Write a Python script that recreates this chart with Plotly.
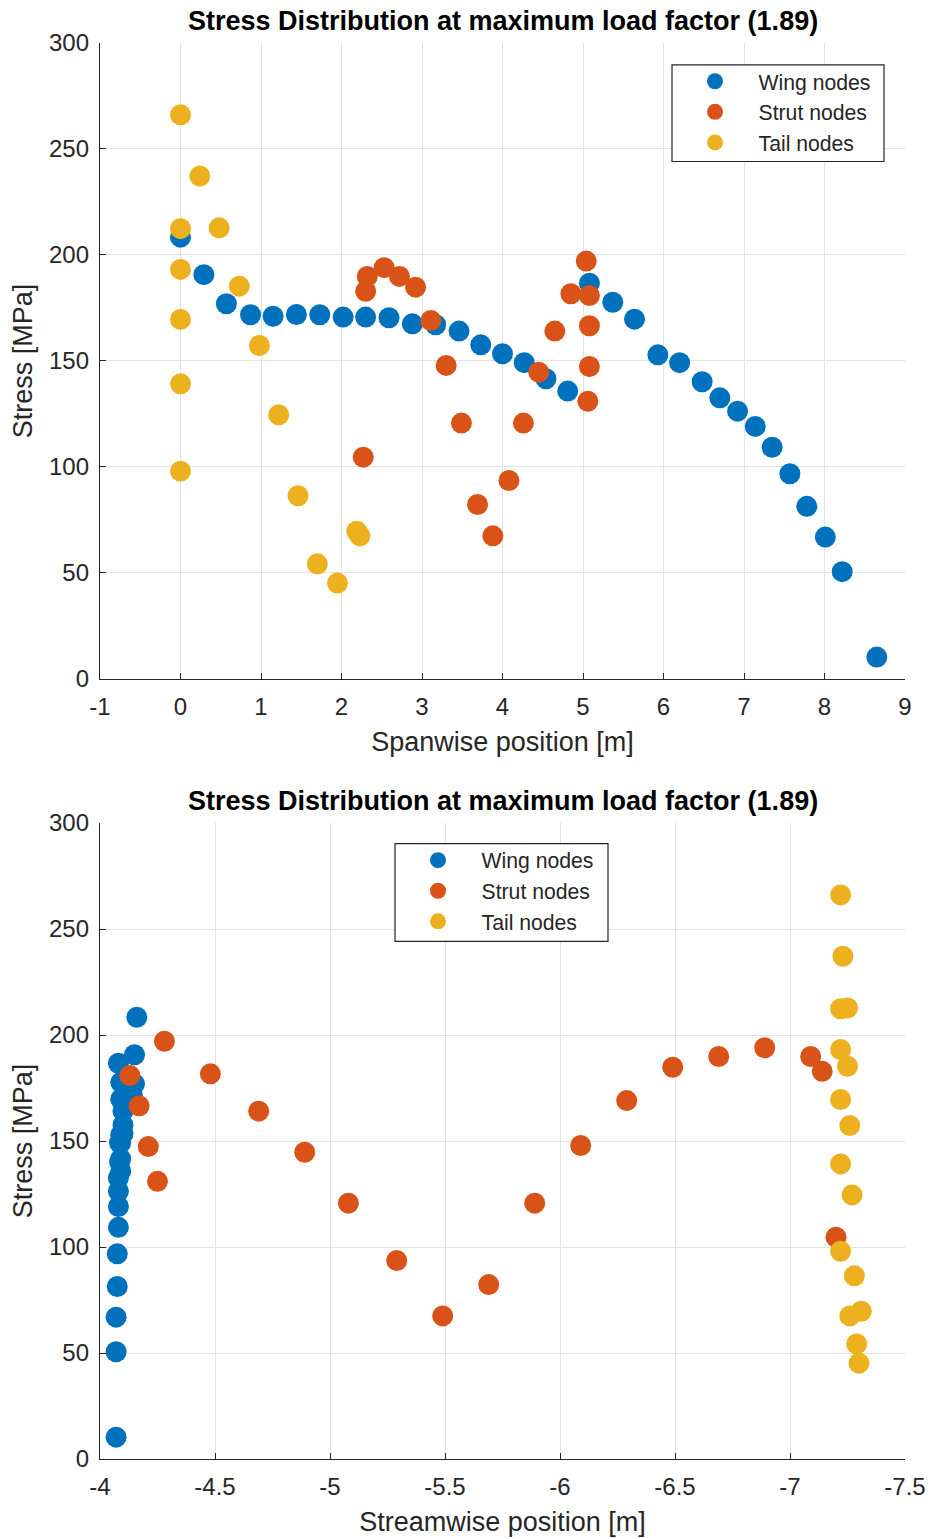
import plotly.graph_objects as go

# ---------------- data ----------------
wing_span = [0, 0.29, 0.57, 0.87, 1.15, 1.44, 1.73, 2.02, 2.30, 2.59, 2.88, 3.17, 3.46, 3.73,
             4.00, 4.27, 4.54, 4.81, 5.08, 5.37, 5.64, 5.93, 6.20, 6.48, 6.70, 6.92, 7.14,
             7.35, 7.57, 7.78, 8.01, 8.22, 8.65]
wing_stream = [-4.16, -4.15, -4.15, -4.14, -4.14, -4.13, -4.13, -4.12, -4.12, -4.12, -4.11,
               -4.11, -4.10, -4.10, -4.10, -4.09, -4.09, -4.09, -4.08, -4.09, -4.09, -4.09,
               -4.085, -4.085, -4.08, -4.08, -4.08, -4.08, -4.075, -4.075, -4.07, -4.07, -4.07]
wing_stress = [208.4, 190.7, 177.0, 171.8, 171.1, 171.9, 171.8, 170.7, 170.7, 170.4, 167.5,
               167.1, 164.1, 157.6, 153.4, 149.2, 141.6, 135.8, 186.7, 177.7, 169.7, 152.9,
               149.2, 140.2, 132.6, 126.3, 119.1, 109.3, 96.8, 81.4, 66.9, 50.6, 10.3]

strut_span = [2.27, 2.30, 2.32, 2.53, 2.72, 2.92, 3.11, 3.30, 3.49, 3.69, 3.88, 4.08, 4.26,
              4.45, 4.65, 4.85, 5.04, 5.08, 5.08, 5.08, 5.06]
strut_stream = [-7.20, -7.14, -7.09, -6.89, -6.69, -6.49, -6.29, -6.09, -5.89, -5.69, -5.49,
                -5.29, -5.08, -4.89, -4.69, -4.48, -4.28, -4.13, -4.17, -4.21, -4.25]
strut_stress = [104.6, 182.9, 189.9, 194.0, 189.9, 184.8, 169.1, 147.9, 120.7, 82.3, 67.5,
                93.6, 120.7, 144.7, 164.1, 181.7, 197.1, 180.9, 166.6, 147.4, 131.0]

tail_span = [0, 0.24, 0, 0.48, 0, 0.73, 0, 0.98, 0, 1.22, 0, 1.46, 2.19, 2.23, 1.70, 1.95]
tail_stream = [-7.22, -7.23, -7.22, -7.25, -7.22, -7.25, -7.22, -7.26, -7.22, -7.27, -7.22,
               -7.28, -7.31, -7.26, -7.29, -7.30]
tail_stress = [266.1, 237.2, 212.4, 212.8, 193.2, 185.3, 169.6, 157.3, 139.2, 124.6, 98.0,
               86.4, 69.7, 67.5, 54.3, 45.2]

top_xticks = [-1, 0, 1, 2, 3, 4, 5, 6, 7, 8, 9]
top_xlabels = ["-1", "0", "1", "2", "3", "4", "5", "6", "7", "8", "9"]
bot_xticks = [-4, -4.5, -5, -5.5, -6, -6.5, -7, -7.5]
bot_xlabels = ["-4", "-4.5", "-5", "-5.5", "-6", "-6.5", "-7", "-7.5"]
yticks = [0, 50, 100, 150, 200, 250, 300]
ylabels = ["0", "50", "100", "150", "200", "250", "300"]

title_text = "Stress Distribution at maximum load factor (1.89)"
names = ["Wing nodes", "Strut nodes", "Tail nodes"]
colors = ["#0072BD", "#D95319", "#EDB120"]

# ---------------- figure ----------------
FONT = "Liberation Sans, Arial, Helvetica, sans-serif"
TXT = "#262626"
W, H = 929, 1539
L, R, T, B = 100, 24, 42.5, 80.3
plot_w = W - L - R
plot_h = H - T - B
top_dom = [1 - 636 / plot_h, 1]
bot_dom = [0, 636 / plot_h]
NB = "\u00a0" * 4

fig = go.Figure()
sets = [(wing_span, wing_stream, wing_stress), (strut_span, strut_stream, strut_stress),
        (tail_span, tail_stream, tail_stress)]
for (sp, st, ss), nm, c in zip(sets, names, colors):
    fig.add_trace(go.Scatter(x=sp, y=ss, mode="markers", name=NB + nm, xaxis="x", yaxis="y",
                             marker=dict(size=21, color=c, line=dict(width=0)),
                             legend="legend"))
for (sp, st, ss), nm, c in zip(sets, names, colors):
    fig.add_trace(go.Scatter(x=st, y=ss, mode="markers", name=NB + nm, xaxis="x2", yaxis="y2",
                             marker=dict(size=21, color=c, line=dict(width=0)),
                             legend="legend2"))

axis_common = dict(showgrid=True, gridcolor="#e3e3e3", gridwidth=1, showline=True,
                   linecolor=TXT, linewidth=1.3, ticks="inside", ticklen=6, tickcolor=TXT,
                   tickwidth=1, zeroline=False, mirror=False, automargin=False,
                   tickfont=dict(family=FONT, size=24, color=TXT))
tfont = dict(family=FONT, size=27, color=TXT)
LFS = 21.2

fig.update_layout(
    width=W, height=H, margin=dict(l=L, r=R, t=T, b=B, autoexpand=False),
    paper_bgcolor="white", plot_bgcolor="white",
    font=dict(family=FONT, color=TXT),
    xaxis=dict(domain=[0, 1], anchor="y", range=[-1, 9], tickvals=top_xticks,
               ticktext=top_xlabels, ticklabelstandoff=6,
               title=dict(text="Spanwise position [m]", font=tfont, standoff=13), **axis_common),
    yaxis=dict(domain=top_dom, anchor="x", range=[0, 300], tickvals=yticks, ticktext=ylabels,
               ticklabelstandoff=5,
               title=dict(text="Stress [MPa]", font=tfont, standoff=8), **axis_common),
    xaxis2=dict(domain=[0, 1], anchor="y2", range=[-4, -7.5], tickvals=bot_xticks,
                ticktext=bot_xlabels, ticklabelstandoff=6,
                title=dict(text="Streamwise position [m]", font=tfont, standoff=13), **axis_common),
    yaxis2=dict(domain=bot_dom, anchor="x2", range=[0, 300], tickvals=yticks, ticktext=ylabels,
                ticklabelstandoff=5,
                title=dict(text="Stress [MPa]", font=tfont, standoff=8), **axis_common),
    legend=dict(x=(695 - L) / plot_w, y=1 - (60.5 - T) / plot_h, xanchor="left", yanchor="top",
                bgcolor="rgba(0,0,0,0)", borderwidth=0,
                font=dict(family=FONT, size=LFS, color=TXT)),
    legend2=dict(x=(418 - L) / plot_w, y=1 - (839.5 - T) / plot_h, xanchor="left", yanchor="top",
                 bgcolor="rgba(0,0,0,0)", borderwidth=0,
                 font=dict(family=FONT, size=LFS, color=TXT)),
    showlegend=True,
)

# legend frames (MATLAB-style boxes), placed in axis-domain fractions
boxes = [("x domain", "y domain", 672, 884, 64.3, 161.0, T),
         ("x2 domain", "y2 domain", 395, 608, 843.3, 941.0, T + plot_h - 636)]
for xr, yr, x0, x1, y0, y1, top in boxes:
    fig.add_shape(type="rect", xref=xr, yref=yr,
                  x0=(x0 - L) / plot_w, x1=(x1 - L) / plot_w,
                  y0=1 - (y1 - top) / 636, y1=1 - (y0 - top) / 636,
                  line=dict(color="#262626", width=1.2), fillcolor="white", layer="above")

for yd in (top_dom, bot_dom):
    fig.add_annotation(text="<b>" + title_text + "</b>", xref="paper", yref="paper",
                       x=0.5, y=yd[1], yshift=22.5, xanchor="center", yanchor="middle",
                       showarrow=False, font=dict(family=FONT, size=27, color="#000000"))

fig.write_html("out.html", config={"displayModeBar": False},
               post_script="document.body.style.margin='0';document.body.style.padding='0';")
